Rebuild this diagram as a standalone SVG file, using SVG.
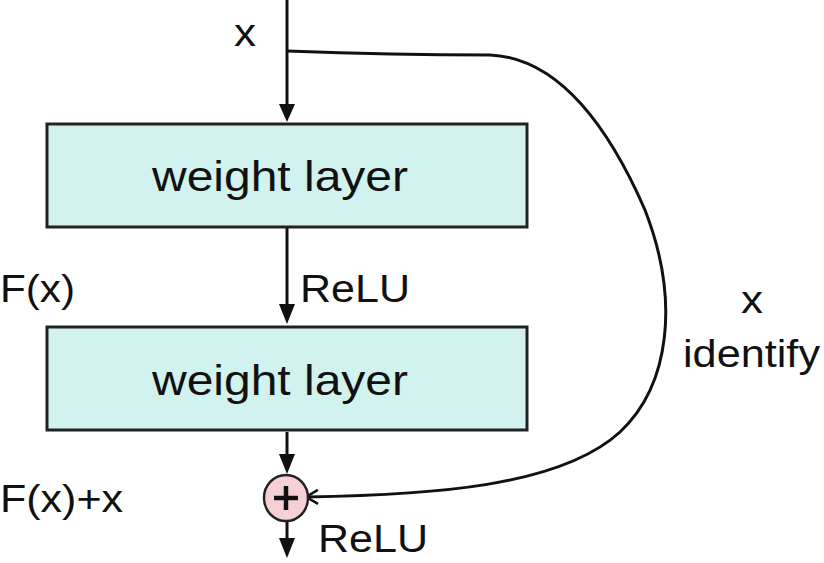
<svg xmlns="http://www.w3.org/2000/svg" width="824" height="563" viewBox="0 0 824 563">
<style>
text{font-family:"Liberation Sans",Arial,sans-serif;fill:#111}
.box{fill:#d1f2ef;stroke:#222;stroke-width:3}
.ln{fill:none;stroke:#111;stroke-width:3}
.lbl{font-size:38px}
.wl{font-size:42px}
</style>
<defs>
<marker id="open" markerWidth="16" markerHeight="16" refX="14" refY="8" orient="auto" markerUnits="userSpaceOnUse" viewBox="0 0 16 16"><path d="M2,1L14,8L2,15" fill="none" stroke="#111" stroke-width="2.5"/></marker>
</defs>
<g id="connectors">
<path class="ln" d="M287,0V106"/>
<path d="M279,104L287,122L295,104z" fill="#111"/>
<path class="ln" d="M287,228V306"/>
<path d="M279,304L287,324L295,304z" fill="#111"/>
<path class="ln" d="M287,432V456"/>
<path d="M279,454L287,474L295,454z" fill="#111"/>
<path class="ln" d="M287,522V540"/>
<path d="M279,538L287,558L295,538z" fill="#111"/>
<path class="ln" d="M287,51C340,53 420,55 490,55C560,58 610,130 645,210C680,300 670,385 620,432C560,487 430,495 306,497" marker-end="url(#open)"/>
</g>
<g id="n1"><rect class="box" x="47" y="124" width="480" height="103"/><text class="wl" x="152" y="191" textLength="256" lengthAdjust="spacingAndGlyphs">weight layer</text></g>
<g id="n2"><rect class="box" x="47" y="327" width="480" height="103"/><text class="wl" x="152" y="395" textLength="256" lengthAdjust="spacingAndGlyphs">weight layer</text></g>
<g id="plus"><ellipse cx="286" cy="498" rx="22" ry="23" fill="#f6d0d4" stroke="#222" stroke-width="2.5"/><path d="M274,498H298M286,486V510" stroke="#111" stroke-width="4.5"/></g>
<g id="labels">
<text class="lbl" x="234" y="46" textLength="22" lengthAdjust="spacingAndGlyphs">x</text>
<text class="lbl" x="0" y="302" textLength="75" lengthAdjust="spacingAndGlyphs">F(x)</text>
<text class="lbl" x="300" y="302" textLength="110" lengthAdjust="spacingAndGlyphs">ReLU</text>
<text class="lbl" x="741" y="313" textLength="22" lengthAdjust="spacingAndGlyphs">x</text>
<text class="lbl" x="683" y="367" textLength="137" lengthAdjust="spacingAndGlyphs">identify</text>
<text class="lbl" x="0" y="512" textLength="123" lengthAdjust="spacingAndGlyphs">F(x)+x</text>
<text class="lbl" x="318" y="552" textLength="110" lengthAdjust="spacingAndGlyphs">ReLU</text>
</g>
</svg>
